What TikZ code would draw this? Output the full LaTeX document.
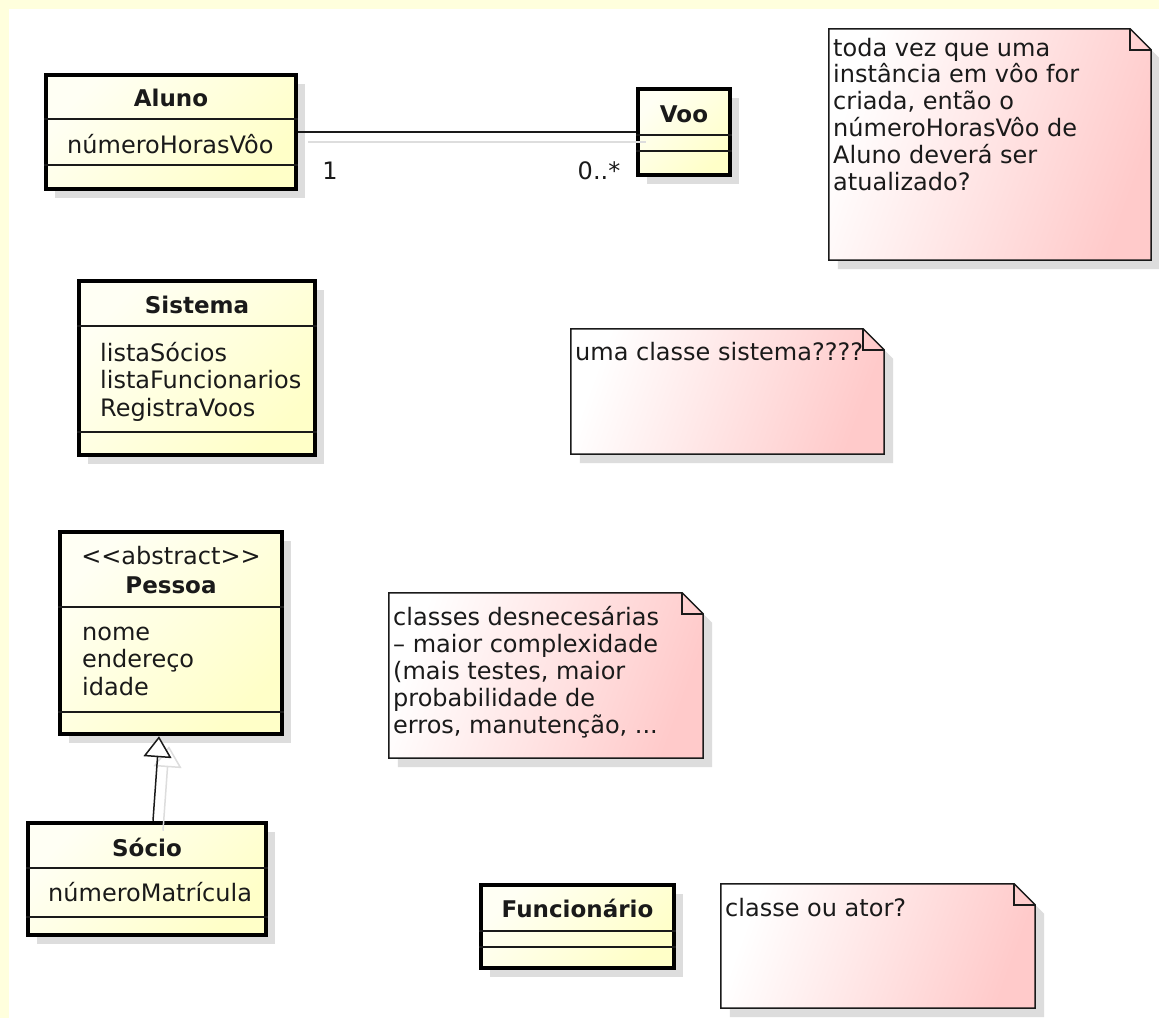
\documentclass[tikz,border=0pt]{standalone}
\usepackage{fontspec}
\setmainfont{DejaVu Sans}
\usetikzlibrary{shadows,arrows.meta}

\definecolor{frameyellow}{HTML}{FFFFDD}
\definecolor{clsA}{HTML}{FFFFF4}
\definecolor{clsB}{HTML}{FFFFC8}
\definecolor{noteB}{HTML}{FFCACA}
\definecolor{shadowc}{HTML}{DDDDDD}
\definecolor{inkc}{HTML}{1A1A1A}

\tikzset{
  cls/.style={draw=black, line width=4.5pt, inner sep=0pt,
    left color=clsA, right color=clsB, shading angle=45,
    general shadow={fill=shadowc, shadow xshift=9pt, shadow yshift=-9pt}},
  compline/.style={draw=inkc, line width=1.5pt},
  notebox/.style={inner sep=0pt, draw=none},
  noteline/.style={draw=inkc, line width=1.5pt, line join=miter},
  title/.style={font=\fontsize{23}{26}\selectfont\bfseries, text=inkc, inner sep=0pt, anchor=base},
  stereo/.style={font=\fontsize{24}{27}\selectfont, text=inkc, inner sep=0pt, anchor=base},
  attr/.style={font=\fontsize{24}{27.5}\selectfont, text=inkc, inner sep=0pt, anchor=base west, align=left},
  mult/.style={font=\fontsize{24}{27}\selectfont, text=inkc, inner sep=0pt, anchor=base},
  notetext/.style={font=\fontsize{24}{26.8}\selectfont, text=inkc, inner sep=0pt, anchor=base west, align=left},
  assoc/.style={draw=inkc, line width=1.5pt},
  gen/.style={draw=inkc, line width=1.5pt, -{Triangle[open, fill=white, length=21pt, width=28pt]}},
  genshadow/.style={draw=shadowc, line width=1.5pt, -{Triangle[open, length=21pt, width=28pt]}},
}

% folded-corner comment box drawn around a named placeholder node
\newcommand\drawnote[1]{%
  \fill[shadowc, transform canvas={shift={(9pt,-9pt)}}]
    (#1.north west) -- ([xshift=-21pt]#1.north east) -- ([yshift=-21pt]#1.north east)
    -- (#1.south east) -- (#1.south west) -- cycle;
  \shade[left color=white, right color=noteB, shading angle=70]
    (#1.north west) -- ([xshift=-21pt]#1.north east) -- ([yshift=-21pt]#1.north east)
    -- (#1.south east) -- (#1.south west) -- cycle;
  \draw[noteline]
    (#1.north west) -- ([xshift=-21pt]#1.north east) -- ([yshift=-21pt]#1.north east)
    -- (#1.south east) -- (#1.south west) -- cycle;
  \draw[noteline] ([xshift=-21pt]#1.north east) -- ([xshift=-21pt,yshift=-21pt]#1.north east)
    -- ([yshift=-21pt]#1.north east);
}

\begin{document}
\begin{tikzpicture}[x=1pt, y=-1pt]
  \useasboundingbox (0,0) rectangle (1159,1018);
  \fill[frameyellow] (0,0) rectangle (1159,1018);
  \fill[white] (9,9) rectangle (1159,1018);

  % classes
  \node[cls, minimum width=250pt, minimum height=114pt] (aluno) at (171,132) {};
  \node[cls, minimum width=92pt,  minimum height=86pt]  (voo) at (684,132) {};
  \node[cls, minimum width=236pt, minimum height=174pt] (sistema) at (197,368) {};
  \node[cls, minimum width=222pt, minimum height=202pt] (pessoa) at (171,633) {};
  \node[cls, minimum width=238pt, minimum height=112pt] (socio) at (147,879) {};
  \node[cls, minimum width=193pt, minimum height=83pt]  (func) at (577.5,926.5) {};

  % compartments
  \draw[compline] (aluno.west |- 0,119) -- (aluno.east |- 0,119);
  \draw[compline] (aluno.west |- 0,165) -- (aluno.east |- 0,165);
  \draw[compline] (voo.west |- 0,135) -- (voo.east |- 0,135);
  \draw[compline] (voo.west |- 0,151) -- (voo.east |- 0,151);
  \draw[compline] (sistema.west |- 0,326) -- (sistema.east |- 0,326);
  \draw[compline] (sistema.west |- 0,432) -- (sistema.east |- 0,432);
  \draw[compline] (pessoa.west |- 0,607) -- (pessoa.east |- 0,607);
  \draw[compline] (pessoa.west |- 0,712) -- (pessoa.east |- 0,712);
  \draw[compline] (socio.west |- 0,868) -- (socio.east |- 0,868);
  \draw[compline] (socio.west |- 0,917) -- (socio.east |- 0,917);
  \draw[compline] (func.west |- 0,931) -- (func.east |- 0,931);
  \draw[compline] (func.west |- 0,947) -- (func.east |- 0,947);

  % class texts (multi-line nodes are placed by the baseline of their last line)
  \node[title] (alunoT) at (171,106) {Aluno};
  \node[attr]  (alunoA) at (67,153) {númeroHorasVôo};
  \node[title] (vooT) at (684,122) {Voo};
  \node[title] (sistemaT) at (197,313) {Sistema};
  \node[attr]  (sistemaA) at (100,416) {listaSócios\\listaFuncionarios\\RegistraVoos};
  \node[stereo] (pessoaS) at (171,564) {<{}<abstract>{}>};
  \node[title] (pessoaT) at (171,593) {Pessoa};
  \node[attr]  (pessoaA) at (82,695) {nome\\endereço\\idade};
  \node[title] (socioT) at (147,856) {Sócio};
  \node[attr]  (socioA) at (48,901) {númeroMatrícula};
  \node[title] (funcT) at (577.5,917) {Funcionário};

  % association Aluno -- Voo
  \draw[assoc, draw=shadowc, transform canvas={shift={(10pt,-10pt)}}] (aluno.east) -- (voo.west);
  \draw[assoc] (aluno.east) -- (voo.west);
  \node[mult] (m1) at (330,179) {1};
  \node[mult] (m2) at (599,179) {0..*};

  % generalization Sócio -> Pessoa
  \draw[genshadow, transform canvas={shift={(10pt,-10pt)}}] ([xshift=6pt]socio.north) -- ([xshift=-12pt]pessoa.south);
  \draw[gen] ([xshift=6pt]socio.north) -- ([xshift=-12pt]pessoa.south);

  % comments
  \node[notebox, minimum width=322pt, minimum height=231pt] (n1) at (990,144.5) {};
  \node[notebox, minimum width=313pt, minimum height=125pt] (n2) at (727.5,391.5) {};
  \node[notebox, minimum width=314pt, minimum height=165pt] (n3) at (546,675.5) {};
  \node[notebox, minimum width=314pt, minimum height=124pt] (n4) at (878,946) {};
  \drawnote{n1}
  \drawnote{n2}
  \drawnote{n3}
  \drawnote{n4}
  \node[notetext] (n1t) at (833,190) {toda vez que uma\\instância em vôo for\\criada, então o\\númeroHorasVôo de\\Aluno deverá ser\\atualizado?};
  \node[notetext] (n2t) at (575,360) {uma classe sistema????};
  \node[notetext] (n3t) at (393,733) {classes desnecesárias\\– maior complexidade\\(mais testes, maior\\probabilidade de\\erros, manutenção, ...};
  \node[notetext] (n4t) at (725,916) {classe ou ator?};
\end{tikzpicture}
\end{document}
